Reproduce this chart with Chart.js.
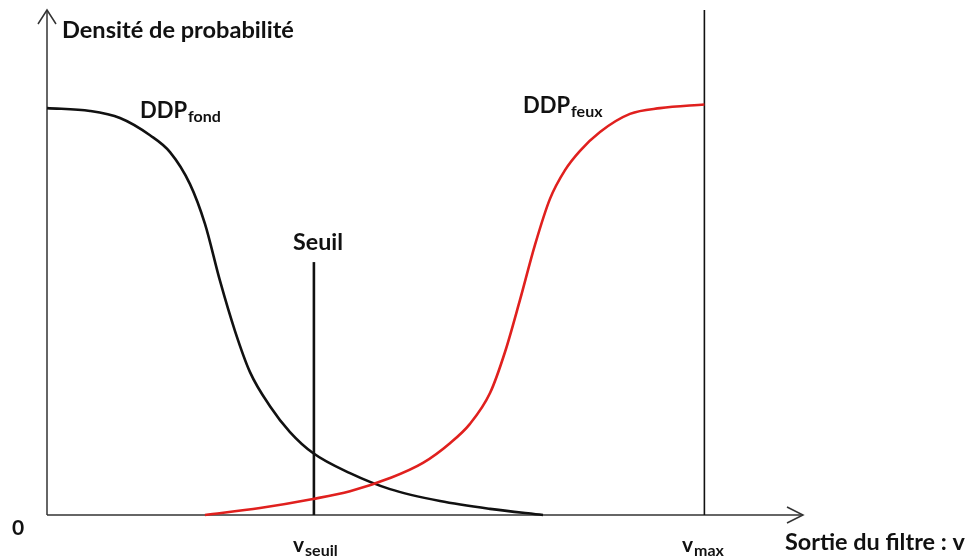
<!DOCTYPE html>
<html>
<head>
<meta charset="utf-8">
<script src="https://cdn.jsdelivr.net/npm/chart.js@4/dist/chart.umd.min.js"></script>
<style>
  html, body { margin: 0; padding: 0; background: #ffffff; }
  #c { display: block; }
</style>
</head>
<body>
<canvas id="c" width="969" height="558"></canvas>
<script>
// ---- Data (x = filter output v, vmax = 100 ; y = probability density, plateau = 1) ----
const fondX = [0, 6.54, 11.10, 15.67, 18.71, 21.75, 24.03, 26.32, 28.60, 30.88, 33.92, 36.96, 40.46, 46.09, 52.18, 59.78, 67.39, 75.45];
const fondY = [0.991, 0.984, 0.967, 0.925, 0.884, 0.806, 0.709, 0.570, 0.448, 0.348, 0.265, 0.202, 0.151, 0.102, 0.063, 0.034, 0.015, 0.0];

const feuxX = [24.03, 32.40, 40.46, 46.09, 52.18, 57.19, 61.30, 64.34, 67.39, 69.67, 71.95, 74.23, 76.51, 78.80, 81.08, 84.12, 88.68, 93.25, 100];
const feuxY = [0.0, 0.017, 0.039, 0.058, 0.090, 0.127, 0.175, 0.222, 0.297, 0.397, 0.524, 0.658, 0.770, 0.840, 0.887, 0.933, 0.977, 0.991, 1.0];

const vSeuil = 40.6;
const seuilTop = 0.616;
const vMax = 100;
const xAxisMax = 115;
const yAxisMax = 1.23;

const yTitle = "Densité de probabilité";
const xTitle = "Sortie du filtre : v";
const seuilLabel = "Seuil";
const zeroLabel = "0";

const toPts = (xs, ys) => xs.map((x, i) => ({ x: x, y: ys[i] }));

function drawSub(ctx, main, sub, x, baseline, mainSize, subSize, subDrop) {
  ctx.font = "bold " + mainSize + "px Lato, 'Open Sans', sans-serif";
  ctx.fillText(main, x, baseline);
  const w = ctx.measureText(main).width;
  ctx.font = "bold " + subSize + "px Lato, 'Open Sans', sans-serif";
  ctx.fillText(sub, x + w + 1, baseline + subDrop);
}
function drawFit(ctx, text, x, baseline, width, baseSize) {
  ctx.font = "bold " + baseSize + "px Lato, 'Open Sans', sans-serif";
  const m = ctx.measureText(text).width;
  const s = baseSize * width / m;
  ctx.font = "bold " + s.toFixed(2) + "px Lato, 'Open Sans', sans-serif";
  ctx.fillText(text, x, baseline);
}

const decor = {
  id: 'decor',
  afterDatasetsDraw(chart) {
    const ctx = chart.ctx;
    const xs = chart.scales.x, ys = chart.scales.y;
    const x0 = xs.getPixelForValue(0), y0 = ys.getPixelForValue(0);
    const xTip = xs.getPixelForValue(xAxisMax), yTip = ys.getPixelForValue(yAxisMax);
    ctx.save();
    ctx.strokeStyle = '#333333';
    ctx.lineWidth = 1.5;
    ctx.beginPath();
    ctx.moveTo(xTip - 16, y0 - 8); ctx.lineTo(xTip, y0); ctx.lineTo(xTip - 16, y0 + 8);
    ctx.moveTo(x0 - 9, yTip + 14); ctx.lineTo(x0, yTip); ctx.lineTo(x0 + 9, yTip + 14);
    ctx.stroke();

    ctx.fillStyle = '#111111';
    ctx.textBaseline = 'alphabetic';
    ctx.textAlign = 'left';
    drawFit(ctx, yTitle, 62, 38, 232, 18);
    drawSub(ctx, "DDP", "fond", 140, 118, 22, 16, 4);
    drawSub(ctx, "DDP", "feux", 523, 113, 22, 16, 4);
    drawFit(ctx, seuilLabel, 293, 250, 50, 20);
    ctx.font = "bold 21px Lato, 'Open Sans', sans-serif";
    ctx.fillText(zeroLabel, 12, 535);
    drawSub(ctx, "v", "seuil", 293, 552, 21, 16, 4);
    drawSub(ctx, "v", "max", 682, 552, 21, 16, 4);
    drawFit(ctx, xTitle, 785, 550, 180, 20);
    ctx.restore();
  }
};

const common = { showLine: true, pointRadius: 0, pointHoverRadius: 0, clip: false, fill: false };

new Chart(document.getElementById('c'), {
  type: 'scatter',
  data: {
    datasets: [
      Object.assign({ label: 'DDP fond', data: toPts(fondX, fondY), borderColor: '#111111', borderWidth: 2.6, cubicInterpolationMode: 'monotone', order: 1 }, common),
      Object.assign({ label: 'DDP feux', data: toPts(feuxX, feuxY), borderColor: '#e0201e', borderWidth: 2.6, cubicInterpolationMode: 'monotone', order: 0 }, common),
      Object.assign({ label: 'Seuil', data: [{ x: vSeuil, y: 0 }, { x: vSeuil, y: seuilTop }], borderColor: '#111111', borderWidth: 2.6, order: 2 }, common),
      Object.assign({ label: 'vmax', data: [{ x: vMax, y: 0 }, { x: vMax, y: yAxisMax }], borderColor: '#111111', borderWidth: 1.6, order: 3 }, common),
      Object.assign({ label: 'axe x', data: [{ x: 0, y: 0 }, { x: xAxisMax, y: 0 }], borderColor: '#333333', borderWidth: 1.5, order: 4 }, common),
      Object.assign({ label: 'axe y', data: [{ x: 0, y: 0 }, { x: 0, y: yAxisMax }], borderColor: '#333333', borderWidth: 1.5, order: 5 }, common)
    ]
  },
  options: {
    responsive: false,
    animation: false,
    layout: { padding: { left: 47, right: 166, top: 10, bottom: 43 } },
    scales: {
      x: { type: 'linear', min: 0, max: xAxisMax, display: false },
      y: { type: 'linear', min: 0, max: yAxisMax, display: false }
    },
    plugins: { legend: { display: false }, tooltip: { enabled: false } },
    events: []
  },
  plugins: [decor]
});
</script>
</body>
</html>
